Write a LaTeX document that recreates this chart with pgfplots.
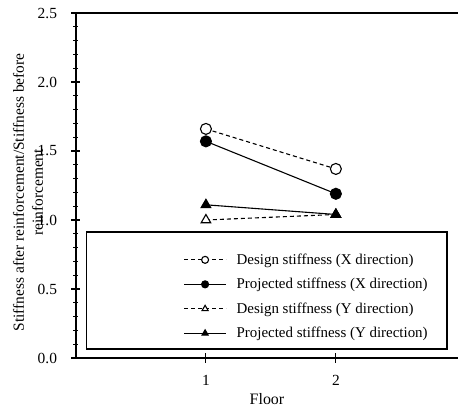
\documentclass[border=0pt]{standalone}
\usepackage{fontspec}
\setmainfont{Liberation Serif}
\usepackage{pgfplots}
\usepackage{pgfplotstable}
\pgfplotsset{compat=1.18}

% floor, design X, projected X, design Y, projected Y
\pgfplotstableread{
floor dx px dy py
1 1.66 1.57 1.00 1.11
2 1.37 1.19 1.04 1.04
}\stiff

\begin{document}
\begin{tikzpicture}[font=\fontsize{15}{18}\selectfont]
\begin{axis}[
    name=ax,
    scale only axis,
    width=382bp, height=345bp,
    xmin=0, xmax=2.94,
    ymin=0, ymax=2.5,
    axis x line*=box, axis y line*=left,
    axis line style={line width=1.1bp, -},
    xtick={1,2}, xtick pos=left,
    ytick={0,0.5,1,1.5,2,2.5}, ytick pos=left,
    minor y tick num=4,
    tick align=center,
    major tick length=9bp, minor tick length=5bp,
    tick style={line width=1.1bp, black},
    /pgf/number format/assume math mode=true,
    yticklabel style={xshift=-11bp, /pgf/number format/.cd, fixed, fixed zerofill, precision=1},
    xticklabel style={yshift=-9bp},
    ticklabel style={font=\fontsize{15.5}{18}\selectfont},
    xlabel={Floor},
    ylabel={Stiffness after reinforcement/Stiffness before\\reinforcement},
    xlabel style={font=\fontsize{16}{19}\selectfont, yshift=-3bp, inner ysep=2bp},
    ylabel style={at={([xshift=-48bp]axis description cs:0,0.48)}, anchor=center,
                  align=center, font=\fontsize{15.5}{19}\selectfont},
    legend style={draw=none, fill=none, at={(0.281,0.178)}, anchor=west,
                  inner sep=0pt, row sep=8.5bp, column sep=5bp,
                  font=\fontsize{15}{18}\selectfont, nodes={inner xsep=5bp}},
    legend cell align=left,
    legend image code/.code={\draw[mark repeat=2,mark phase=2,#1] plot coordinates {(0,0) (21bp,0) (42bp,0)};},
    legend image post style={mark size=3.5bp},
]
\draw[line width=1.1bp] (axis cs:0.084,0.065) rectangle (axis cs:2.855,0.913);

\addplot[black, line width=1.1bp, dash pattern=on 4bp off 3bp, mark=*, mark size=5.5bp,
    mark options={solid, fill=white}] table[x=floor, y=dx] {\stiff};
\addplot[black, line width=1.1bp, mark=*, mark size=5.5bp,
    mark options={fill=black}] table[x=floor, y=px] {\stiff};
\addplot[black, line width=1.1bp, dash pattern=on 4bp off 3bp, mark=triangle*, mark size=5.5bp,
    mark options={solid, fill=white}] table[x=floor, y=dy] {\stiff};
\addplot[black, line width=1.1bp, mark=triangle*, mark size=5.5bp,
    mark options={fill=black}] table[x=floor, y=py] {\stiff};

\legend{Design stiffness (X direction), Projected stiffness (X direction),
        Design stiffness (Y direction), Projected stiffness (Y direction)}
\end{axis}
\pgfresetboundingbox
\path[use as bounding box] ([shift={(-76bp,-53bp)}]ax.south west) rectangle ([shift={(0bp,13bp)}]ax.north east);
\end{tikzpicture}
\end{document}
